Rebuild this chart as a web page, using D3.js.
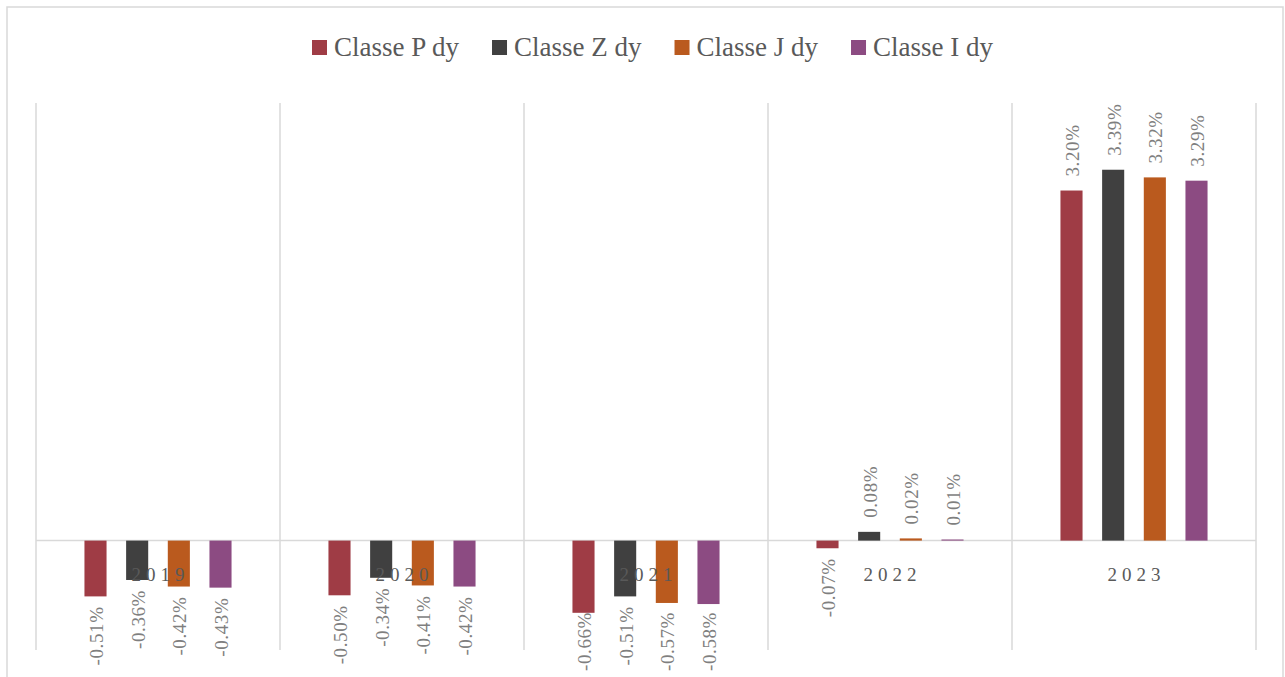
<!DOCTYPE html>
<html>
<head>
<meta charset="utf-8">
<script src="https://cdn.jsdelivr.net/npm/d3@7"></script>
<style>
  body { margin: 0; background: #fff; }
  svg { display: block; font-family: 'Liberation Serif', 'DejaVu Serif', serif; }
</style>
</head>
<body>
<svg id="chart" width="1285" height="677"></svg>
<script>
let years = ['2019', '2020', '2021', '2022', '2023']
let seriesNames = ['Classe P dy', 'Classe Z dy', 'Classe J dy', 'Classe I dy']
let seriesColors = ['#9f3c45', '#404040', '#ba5a1e', '#8c4b82']

// percent values per class, one per year
let classeP = [-0.51, -0.50, -0.66, -0.07, 3.20]
let classeZ = [-0.36, -0.34, -0.51, 0.08, 3.39]
let classeJ = [-0.42, -0.41, -0.57, 0.02, 3.32]
let classeI = [-0.43, -0.42, -0.58, 0.01, 3.29]
let allValues = [classeP, classeZ, classeJ, classeI]

let svg = d3.select('#chart')

// outer frame
svg.append('rect')
    .attr('x', 7).attr('y', 7)
    .attr('width', 1276).attr('height', 690)
    .attr('fill', 'none')
    .attr('stroke', '#d9d9d9')
    .attr('stroke-width', 1.5)

let x0 = d3.scaleBand().domain(years).range([36, 1256])
let x1 = d3.scaleBand().domain(seriesNames)
    .range([0, x0.bandwidth()])
    .paddingInner(0.47)
    .paddingOuter(1.163)
let y = d3.scaleLinear().domain([-1, 4]).range([650, 103])

// vertical category dividers
let dividers = years.map(d => x0(d)).concat([x0.range()[1]])
svg.append('g').selectAll('line')
    .data(dividers)
    .enter()
    .append('line')
    .attr('x1', d => d).attr('x2', d => d)
    .attr('y1', y(4)).attr('y2', y(-1))
    .attr('stroke', '#d9d9d9')
    .attr('stroke-width', 1.5)

// zero line
svg.append('line')
    .attr('x1', x0.range()[0]).attr('x2', x0.range()[1])
    .attr('y1', y(0)).attr('y2', y(0))
    .attr('stroke', '#d9d9d9')
    .attr('stroke-width', 1.5)

let rows = []
seriesNames.forEach((s, i) => {
    years.forEach((yr, j) => {
        rows.push({series: s, year: yr, value: allValues[i][j], color: seriesColors[i]})
    })
})

svg.append('g').selectAll('rect')
    .data(rows)
    .enter()
    .append('rect')
    .attr('x', d => x0(d.year) + x1(d.series))
    .attr('width', x1.bandwidth())
    .attr('y', d => y(Math.max(0, d.value)))
    .attr('height', d => Math.abs(y(d.value) - y(0)))
    .attr('fill', d => d.color)

// category labels (drawn over bars like the original)
svg.append('g').selectAll('text')
    .data(years)
    .enter()
    .append('text')
    .attr('x', d => x0(d) + x0.bandwidth() / 2 + 2.5)
    .attr('y', y(0) + 40)
    .attr('text-anchor', 'middle')
    .attr('font-size', 19)
    .attr('letter-spacing', 5)
    .attr('fill', '#595959')
    .text(d => d)

// rotated data labels; negative ones are pushed up so they stay inside the frame
let bottomLimit = 671
svg.append('g').selectAll('text')
    .data(rows)
    .enter()
    .append('text')
    .attr('text-anchor', d => d.value >= 0 ? 'start' : 'end')
    .attr('dominant-baseline', 'central')
    .attr('font-size', 19)
    .attr('letter-spacing', 0.6)
    .attr('fill', '#7f7f7f')
    .text(d => d.value.toFixed(2) + '%')
    .each(function(d) {
        let cx = x0(d.year) + x1(d.series) + x1.bandwidth() / 2 + 1
        let ty
        if (d.value >= 0) {
            ty = y(d.value) - 14
        } else {
            let len = this.getComputedTextLength()
            ty = Math.min(y(d.value) + 10, bottomLimit - len)
        }
        d3.select(this).attr('transform', 'translate(' + cx + ',' + ty + ') rotate(-90)')
    })

// legend
let legend = svg.append('g')
let items = legend.selectAll('g')
    .data(seriesNames)
    .enter()
    .append('g')
items.append('rect')
    .attr('width', 15).attr('height', 15)
    .attr('y', 40)
    .attr('fill', (d, i) => seriesColors[i])
items.append('text')
    .attr('x', 22)
    .attr('y', 56)
    .attr('font-size', 27)
    .attr('fill', '#595959')
    .text(d => d)

let offset = 0
let widths = []
items.each(function() {
    widths.push(22 + d3.select(this).select('text').node().getComputedTextLength())
})
let gap = 33
let total = d3.sum(widths) + gap * (widths.length - 1)
let startX = 652.5 - total / 2
items.attr('transform', (d, i) => {
    let tx = startX + offset
    offset += widths[i] + gap
    return 'translate(' + tx + ',0)'
})
</script>
</body>
</html>
